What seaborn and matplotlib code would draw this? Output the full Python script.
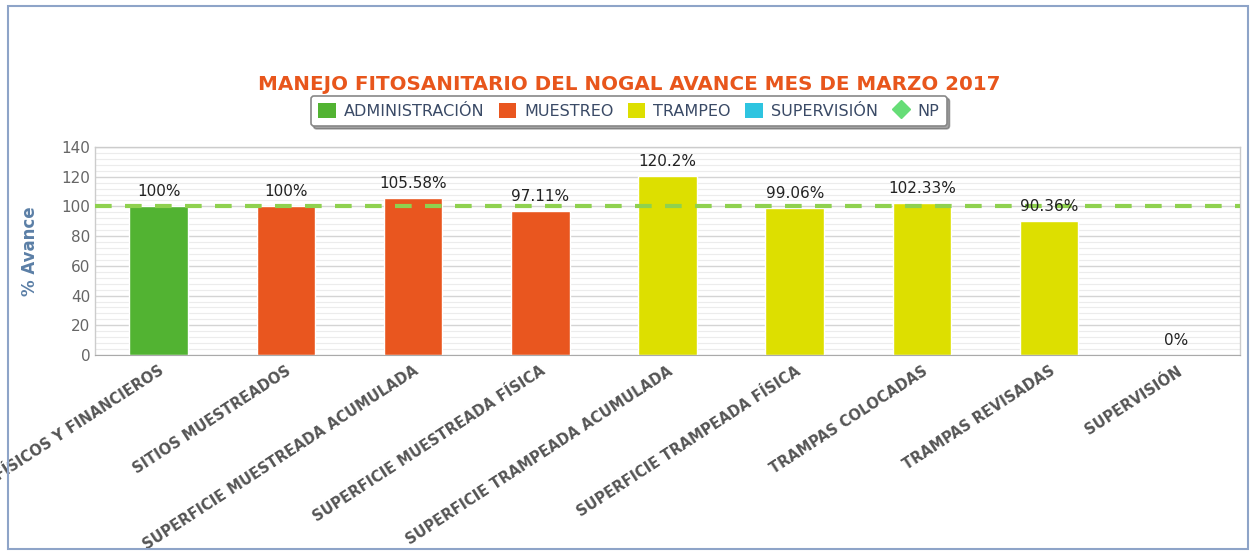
import pandas as pd
import seaborn as sns
import matplotlib.pyplot as plt
from matplotlib.patches import Patch, Rectangle
from matplotlib.lines import Line2D
from matplotlib.ticker import MultipleLocator, FixedLocator

categorias = ['RECURSOS FÍSICOS Y FINANCIEROS', 'SITIOS MUESTREADOS',
              'SUPERFICIE MUESTREADA ACUMULADA', 'SUPERFICIE MUESTREADA FÍSICA',
              'SUPERFICIE TRAMPEADA ACUMULADA', 'SUPERFICIE TRAMPEADA FÍSICA',
              'TRAMPAS COLOCADAS', 'TRAMPAS REVISADAS', 'SUPERVISIÓN']
avance = [100, 100, 105.58, 97.11, 120.2, 99.06, 102.33, 90.36, 0]
grupos = ['ADMINISTRACIÓN', 'MUESTREO', 'MUESTREO', 'MUESTREO',
          'TRAMPEO', 'TRAMPEO', 'TRAMPEO', 'TRAMPEO', 'SUPERVISIÓN']
meta_np = 100

colores = {'ADMINISTRACIÓN': '#52b332', 'MUESTREO': '#e9561f',
           'TRAMPEO': '#dddf00', 'SUPERVISIÓN': '#2ec4e0'}
color_np = '#8fd14f'

def main():
    df = pd.DataFrame({'categoria': categorias, 'avance': avance, 'grupo': grupos})

    sns.set_style('white')
    plt.rcParams['font.family'] = ['DejaVu Sans']

    fig = plt.figure(figsize=(12.5, 5.54), dpi=100)
    ax = fig.add_axes([0.076, 0.3592, 0.916, 0.3755])

    sns.barplot(data=df, x='categoria', y='avance', hue='grupo',
                palette=colores, dodge=False, width=0.46, legend=False,
                order=categorias, saturation=1, ax=ax)

    ax.set_ylim(0, 140)
    ax.set_xlim(-0.5, len(categorias) - 0.5)
    ax.yaxis.set_major_locator(MultipleLocator(20))
    ax.yaxis.set_minor_locator(MultipleLocator(4))
    ax.grid(axis='y', which='major', color='#d4d4d4', linewidth=1)
    ax.grid(axis='y', which='minor', color='#ececec', linewidth=0.8)
    ax.set_axisbelow(True)

    ax.axhline(meta_np, color=color_np, linewidth=3, dashes=(4, 3.2), zorder=3)

    for i, v in enumerate(avance):
        ax.annotate(f'{v:g}%', (i, v), xytext=(0, 5), textcoords='offset points',
                    ha='center', va='bottom', fontsize=11, color='#222222')

    ax.xaxis.set_minor_locator(FixedLocator([i - 0.5 for i in range(len(categorias) + 1)]))
    ax.tick_params(axis='x', which='major', length=0, pad=6)
    ax.tick_params(axis='x', which='minor', length=6, width=2.5, color='#333333', direction='out')
    ax.tick_params(axis='y', which='both', length=0, labelsize=11, labelcolor='#666666')
    ax.set_xticks(range(len(categorias)))
    ax.set_xticklabels(categorias, rotation=33, ha='right', rotation_mode='anchor',
                       fontsize=10.5, fontweight='bold', color='#555555')

    for s in ['top', 'right', 'left']:
        ax.spines[s].set_color('#cccccc')
        ax.spines[s].set_linewidth(1)
    ax.spines['bottom'].set_color('#aaaaaa')

    ax.set_xlabel('')
    ax.set_ylabel('% Avance', fontsize=12, fontweight='bold', color='#5b7fa6', labelpad=16)

    fig.text(0.503, 0.848, 'MANEJO FITOSANITARIO DEL NOGAL AVANCE MES DE MARZO 2017',
             ha='center', va='center', fontsize=14.3, fontweight='bold', color='#e8561c')

    handles = [Patch(facecolor=colores[g], edgecolor='none', label=g) for g in colores]
    handles.append(Line2D([], [], marker='D', linestyle='none', color='#66dd77',
                          markersize=9, label='NP'))
    leg = fig.legend(handles=handles, loc='center', bbox_to_anchor=(0.503, 0.80),
                     ncol=5, frameon=True, fancybox=True, shadow=True,
                     fontsize=11.5, handlelength=1.1, handleheight=1.1,
                     handletextpad=0.5, columnspacing=0.9, borderpad=0.45)
    leg.get_frame().set_edgecolor('#888888')
    leg.get_frame().set_linewidth(1.2)
    for t in leg.get_texts():
        t.set_color('#3a4a66')

    fig.patches.append(Rectangle((8 / 1250, 5 / 554), 1240 / 1250, 543 / 554,
                                 transform=fig.transFigure, fill=False,
                                 edgecolor='#8ea4c8', linewidth=1.5))

    plt.savefig('out.png', dpi=100)

main()
